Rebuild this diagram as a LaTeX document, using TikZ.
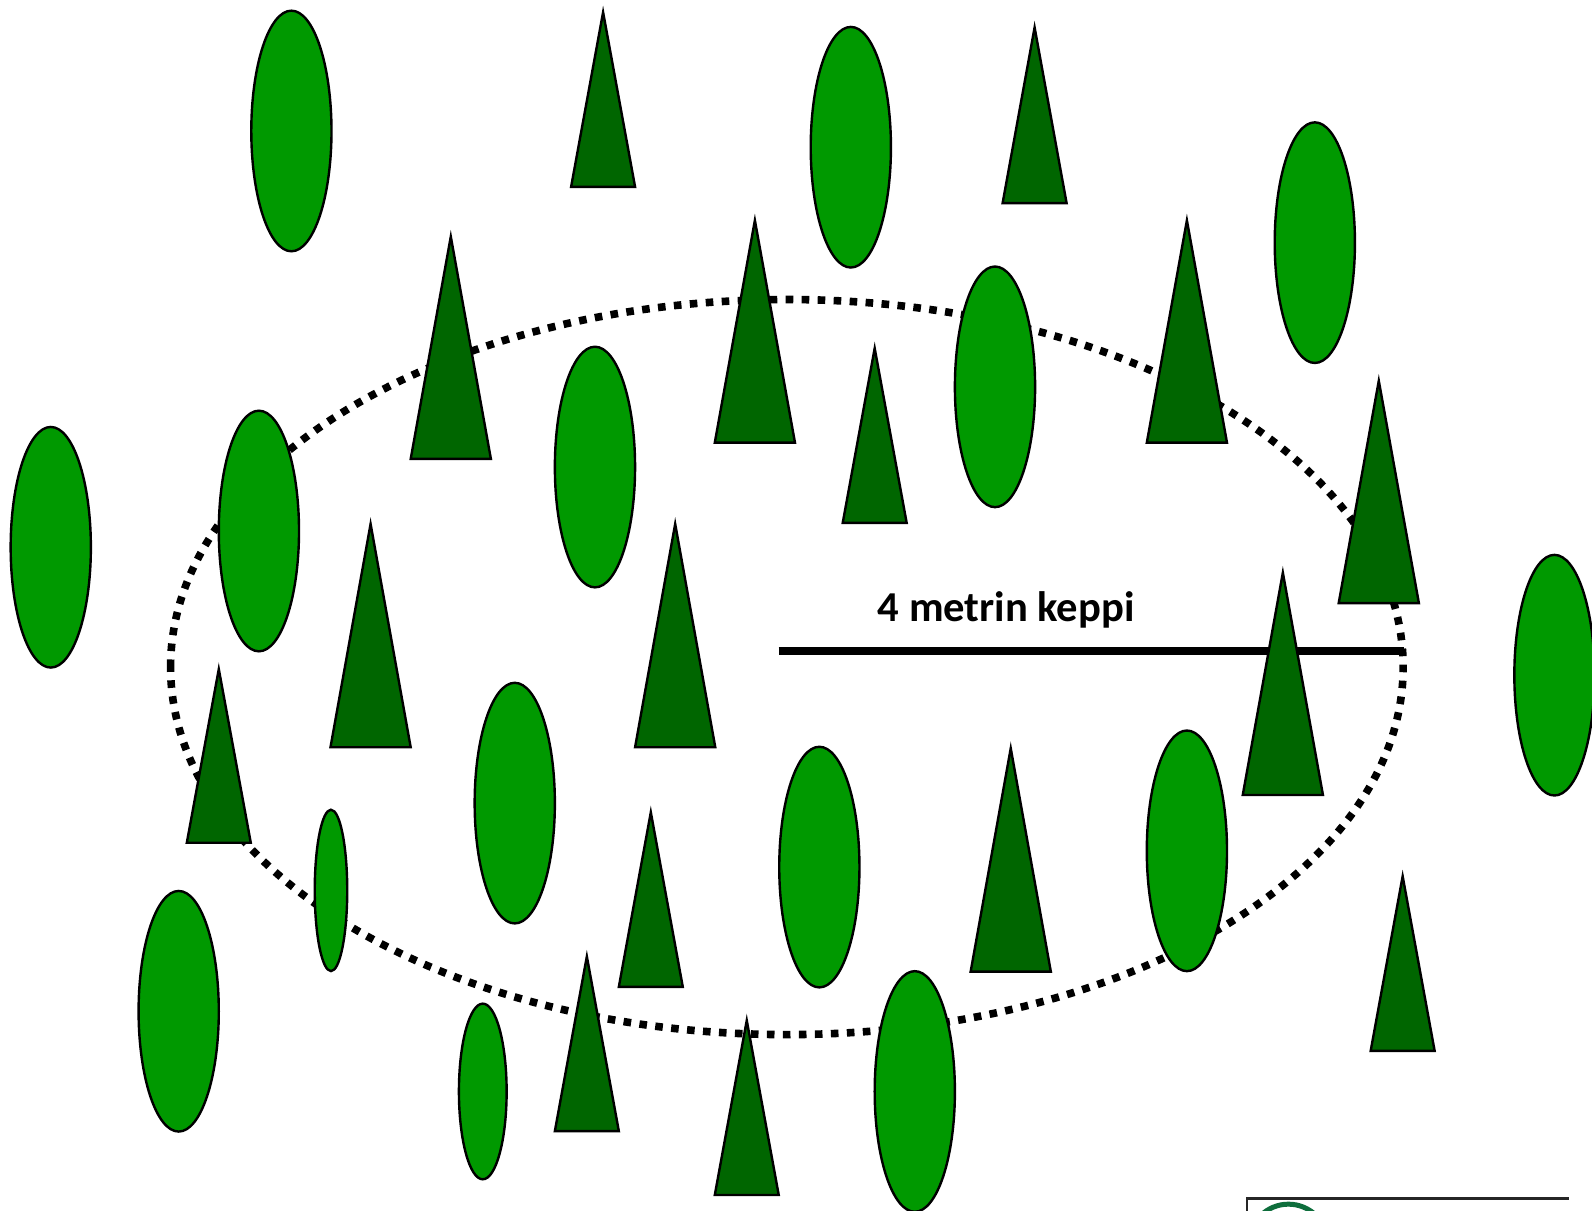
\documentclass[tikz,border=0pt]{standalone}
\usepackage{fontspec}
\setmainfont{Carlito}
\definecolor{leafgreen}{RGB}{0,153,0}
\definecolor{firgreen}{RGB}{0,102,0}
\definecolor{logogreen}{RGB}{14,110,60}
\tikzset{
  leaftree/.style={draw=black,line width=2.4pt,fill=leafgreen},
  firtree/.style={draw=black,line width=2.4pt,fill=firgreen,line join=miter},
  plotring/.style={draw=black,line width=7.6pt,dash pattern=on 7.6pt off 8.4pt},
  stick/.style={draw=black,line width=8.2pt},
  stickcaption/.style={font=\bfseries\fontsize{42.6}{46}\selectfont,inner sep=0pt,text=black}
}
\begin{document}
\begin{tikzpicture}[x=1.01531pt,y=-1.01531pt]
\useasboundingbox (0,0) rectangle (1568,1192.7);
\clip (0,0) rectangle (1568,1192.7);
% sample plot ring
\coordinate (stickL) at (767,641);
\coordinate (stickR) at (1383,641);
\draw[stick] (stickL) -- (stickR);
\draw[plotring] (168,657) arc [start angle=180,end angle=540,x radius=607,y radius=362];
\node[stickcaption,anchor=center] (caption) at (991,601) {4 metrin keppi};
% broadleaf trees: cx, cy, rx, ry
\foreach \x/\y/\rx/\ry in {
 287/129/39.5/118.5, 838/145/39.5/118.5, 1295/239/39.5/118.5, 980/381/39.5/118.5,
 586/460/39.5/118.5, 255/523/39.5/118.5, 50/539/39.5/118.5, 1531/665/39.5/118.5,
 507/791/39.5/118.5, 807/854/39.5/118.5, 1169/838/39.5/118.5, 326/877/16/79.5,
 176/996/39.5/118.5, 475.5/1075/23.5/86.5, 901/1075/39.5/118.5}
  \draw[leaftree] (\x,\y) ellipse [x radius=\rx,y radius=\ry];
% conifers: apex x, apex y, half base, base y
\foreach \x/\y/\h/\b in {
 594/7/31.5/184, 1019/22/31.5/200, 444/228/39.5/452, 743.5/212/39.5/436,
 1169/212/39.5/436, 861.5/338/31.5/515, 1358/370/39.5/594, 365/511/39.5/736,
 665/511/39.5/736, 1263.5/559/39.5/783, 215.5/654/31.5/830, 641/795/31.5/972,
 995.5/732/39.5/957, 1381.5/858/31.5/1035, 578/937/31.5/1114, 735.5/1000/31.5/1177}
  \draw[firtree] (\x,\y+5) -- (\x+\h,\b) -- (\x-\h,\b) -- cycle;
% logo, cut off by the bottom edge
\draw[black!85,line width=2.2pt] (1228.5,1200) -- (1228.5,1180.5) -- (1545,1180.5);
\draw[logogreen,line width=5pt] (1269,1225) circle [radius=39];
\end{tikzpicture}
\end{document}
